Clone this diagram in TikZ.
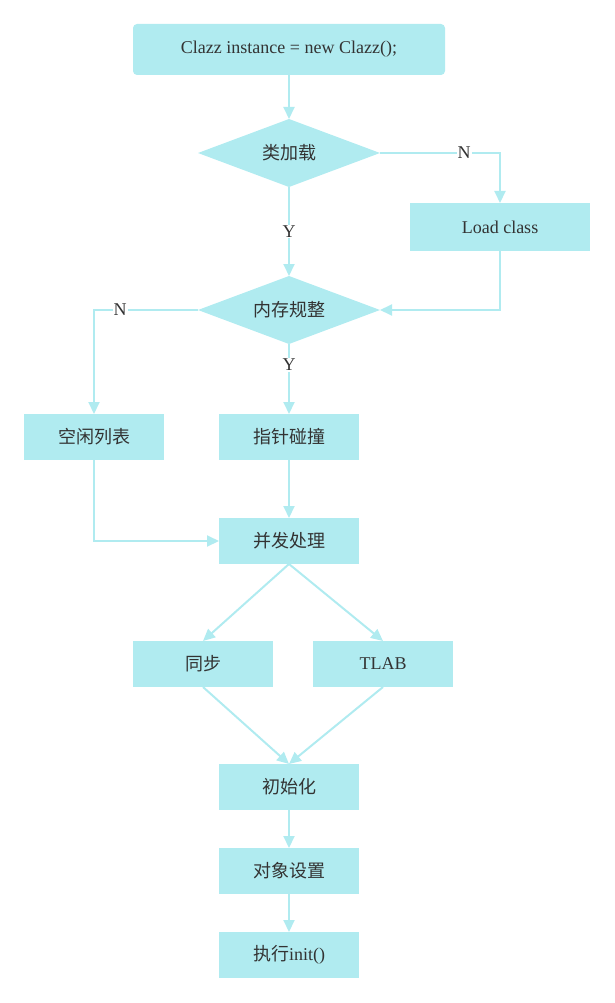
\documentclass[tikz,border=0pt]{standalone}
\usepackage{fontspec}
\setmainfont{Liberation Serif}
\newfontfamily\cjk{Noto Sans CJK SC}
\usepackage{tikz}
\usetikzlibrary{shapes.geometric, positioning, arrows.meta}
\definecolor{flowcyan}{HTML}{B0EBF0}
\definecolor{flowtext}{HTML}{333333}
\tikzset{
    x=1pt, y=-1pt, % pixel-like units, y grows downward
    >={Triangle[length=12pt,width=11pt]}, % filled arrow heads
    every node/.style={text=flowtext, font=\fontsize{18}{22}\selectfont, outer sep=0pt},
    process/.style={fill=flowcyan, minimum width=140pt, minimum height=46pt, inner sep=0pt}, % plain boxes
    decision/.style={diamond, aspect=2.68, fill=flowcyan, minimum width=182pt, minimum height=68pt, inner sep=0pt}, % yes/no tests
    zh/.style={font=\fontsize{18}{22}\selectfont\cjk}, % Chinese labels
    flow/.style={->, draw=flowcyan, line width=2pt}, % connectors
    answer/.style={fill=white, inner sep=1pt}, % Y / N labels
}

\begin{document}
\begin{tikzpicture}
        \useasboundingbox (0,0) rectangle (614,1003);
        \node[process, rounded corners=4pt, minimum width=312pt, minimum height=51pt] (start) at (289,49.5) {Clazz instance = new Clazz();};
        \node[decision, zh] (load) at (289,153) {类加载};
        \node[process, minimum width=180pt, minimum height=48pt] (loadclass) at (500,227) {Load class};
        \node[decision, zh] (memory) at (289,310) {内存规整};
        \node[process, zh] (bump) at (289,437) {指针碰撞};
        \node[process, zh] (freelist) at (94,437) {空闲列表};
        \node[process, zh] (conc) at (289,541) {并发处理};
        \node[process, zh] (sync) at (203,664) {同步};
        \node[process] (tlab) at (383,664) {TLAB};
        \node[process, zh] (init) at (289,787) {初始化};
        \node[process, zh] (setup) at (289,871) {对象设置};
        \node[process] (run) at (289,955) {{\cjk 执行}init()};

        \draw[flow] (start) -- (load);
        \draw[flow] (load.east) -| node[answer, pos=0.35] {N} (loadclass.north);
        \draw[flow] (load.south) -- node[answer] {Y} (memory.north);
        \draw[flow] (loadclass.south) |- (memory.east);
        \draw[flow] (memory.west) -| node[answer, pos=0.375] {N} (freelist.north);
        \draw[flow] (memory.south) -- node[answer, pos=0.3] {Y} (bump.north);
        \draw[flow] (bump) -- (conc);
        \draw[flow] (freelist.south) |- (conc.west);
        \draw[flow] (conc.south) -- (sync.north);
        \draw[flow] (conc.south) -- (tlab.north);
        \draw[flow] (sync.south) -- (init.north);
        \draw[flow] (tlab.south) -- (init.north);
        \draw[flow] (init) -- (setup);
        \draw[flow] (setup) -- (run);
    \end{tikzpicture}
\end{document}
